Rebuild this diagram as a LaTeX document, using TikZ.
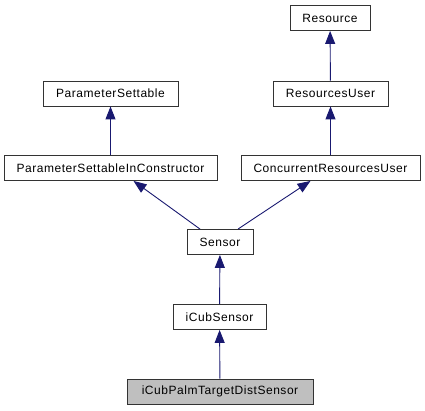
\documentclass[tikz,border=0pt]{standalone}
\usepackage{fontspec}
\setmainfont{Liberation Sans}[LetterSpace=4.5]
\usetikzlibrary{arrows.meta}
\begin{document}
\begin{tikzpicture}[x=1pt,y=-1pt,
  cls/.style={draw=black!80,line width=0.9pt,fill=white,minimum height=25pt,inner xsep=4pt,font=\fontsize{12}{14}\selectfont},
  this/.style={cls,fill=black!25},
  inh/.style={draw={rgb,255:red,25;green,25;blue,112},line width=0.9pt,-{Triangle[length=13pt,width=10pt]}}]
\useasboundingbox (0,0) rectangle (425,411);
\node[cls,minimum width=80pt](res) at (330,18){Resource};
\node[cls,minimum width=135pt](ps) at (110.5,93.5){ParameterSettable};
\node[cls,minimum width=115pt](ru) at (330.5,93.5){ResourcesUser};
\node[cls,minimum width=213pt](psic) at (110.5,168){ParameterSettableInConstructor};
\node[cls,minimum width=179pt](cru) at (330.5,168){ConcurrentResourcesUser};
\node[cls,minimum width=66pt](sens) at (220,242){Sensor};
\node[cls,minimum width=93pt](icub) at (219.5,317){iCubSensor};
\node[this,minimum width=186pt](palm) at (220,391.5){iCubPalmTargetDistSensor};
\draw[inh](ru)--(res);
\draw[inh](psic)--(ps);
\draw[inh](cru)--(ru);
\draw[inh]([xshift=-20]sens.north)--([xshift=23]psic.south);
\draw[inh]([xshift=18]sens.north)--([xshift=-20]cru.south);
\draw[inh](icub)--(sens);
\draw[inh](palm)--(icub);
\end{tikzpicture}
\end{document}
